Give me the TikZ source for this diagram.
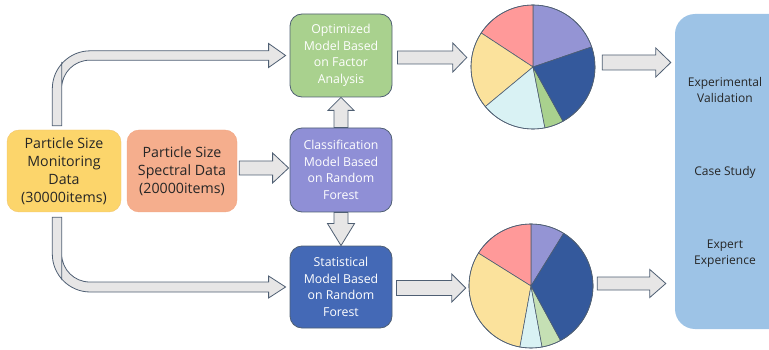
\documentclass[tikz,border=0pt]{standalone}
\usepackage{fontspec}
\setmainfont{Open Sans}
\usetikzlibrary{calc}

\definecolor{monfill}{HTML}{FCD56B}
\definecolor{monline}{HTML}{F2C46C}
\definecolor{specfill}{HTML}{F5AE8D}
\definecolor{specline}{HTML}{F2A582}
\definecolor{optfill}{HTML}{A9D18E}
\definecolor{clsfill}{HTML}{8F8FD6}
\definecolor{statfill}{HTML}{4469B6}
\definecolor{boxline}{HTML}{4F5F73}
\definecolor{resfill}{HTML}{9DC3E6}
\definecolor{arrowgray}{HTML}{E7E6E6}
\definecolor{piepurple}{HTML}{9494D4}
\definecolor{piepink}{HTML}{FF9999}
\definecolor{pieyellow}{HTML}{FBE29C}
\definecolor{piecyan}{HTML}{D9F2F4}
\definecolor{piegreen}{HTML}{A9D18E}
\definecolor{pielightgreen}{HTML}{C5E0B4}
\definecolor{pieblue}{HTML}{34599C}

\tikzset{
  databox/.style={rounded corners=12, minimum width=112, minimum height=82, align=center, text=black!85, font=\fontsize{14.2}{18}\selectfont},
  modelbox/.style={rounded corners=12, minimum width=102, minimum height=83, align=center, draw=boxline, line width=0.8, text=white, font=\fontsize{12.3}{16.5}\selectfont},
  restext/.style={align=center, text=black!85, font=\fontsize{12}{16}\selectfont},
  blockarrow/.style={fill=arrowgray, draw=boxline, line width=0.8},
  slice/.style={draw=boxline, line width=0.6},
}

\newcommand{\fatarrow}[5]{%
  \coordinate (fa-s) at (#1);
  \coordinate (fa-t) at (#2);
  \coordinate (fa-h) at ($(fa-t)!#5pt!(fa-s)$);
  \draw[blockarrow] ($(fa-s)!#3pt!90:(fa-t)$) -- ($(fa-h)!#3pt!-90:(fa-s)$) -- ($(fa-h)!#4pt!-90:(fa-s)$) -- (fa-t)
    -- ($(fa-h)!#4pt!90:(fa-s)$) -- ($(fa-h)!#3pt!90:(fa-s)$) -- ($(fa-s)!#3pt!-90:(fa-t)$) -- cycle;
}

\begin{document}
\begin{tikzpicture}[x=1pt,y=-1pt]
\useasboundingbox (0,0) rectangle (769,350);
\clip (0,0) rectangle (769,350);

\node[databox, fill=monfill, draw=monline, minimum width=114] (mon) at (64,171) {Particle Size\\Monitoring\\Data\\(30000items)};
\node[databox, fill=specfill, draw=specline, minimum width=110] (spec) at (182,171) {Particle Size\\Spectral Data\\(20000items)};

\node[modelbox, fill=optfill] (opt) at (341,55.5) {Optimized\\Model Based\\on Factor\\Analysis};
\node[modelbox, fill=clsfill, minimum height=84] (cls) at (341,170) {Classification\\Model Based\\on Random\\Forest};
\node[modelbox, fill=statfill, minimum height=82] (stat) at (341,287) {Statistical\\Model Based\\on Random\\Forest};

\node[fill=resfill, rounded corners=20, minimum width=125, minimum height=315] (res) at (737.5,171.5) {};
\node[restext] (val) at (725,90) {Experimental\\Validation};
\node[restext] (case) at (725,172) {Case Study};
\node[restext] (expert) at (725,254) {Expert\\Experience};

\node[circle, minimum size=124, inner sep=0] (pie1) at (533,67) {};
\node[circle, minimum size=124, inner sep=0] (pie2) at (531,286) {};
\foreach \a/\b/\c in {18.9/90/piepurple, 90/146.7/piepink, 146.7/219.7/pieyellow, 219.7/281.1/piecyan, 281.1/299/piegreen, 299/378.9/pieblue}
  \draw[slice, fill=\c] (pie1.center) -- ++(-\a:62) arc[start angle=-\a, end angle=-\b, radius=62] -- cycle;
\foreach \a/\b/\c in {58.2/90/piepurple, 90/148/piepink, 148/259.7/pieyellow, 259.7/280.3/piecyan, 280.3/298.5/pielightgreen, 298.5/418.2/pieblue}
  \draw[slice, fill=\c] (pie2.center) -- ++(-\a:62) arc[start angle=-\a, end angle=-\b, radius=62] -- cycle;
\draw[slice] (pie1.center) circle[radius=62];
\draw[slice] (pie2.center) circle[radius=62];

\draw[blockarrow] ($(mon.north)+(-11.7,-4)$) [rounded corners=38] |- ($(opt.west)+(-60,-4.7)$) [sharp corners] -- ($(opt.west)+(-21,-4.7)$) -- ($(opt.west)+(-21,-12)$) -- ($(opt.west)+(-4,0)$) -- ($(opt.west)+(-21,12)$) -- ($(opt.west)+(-21,4.7)$) [rounded corners=28] -| ($(mon.north)+(-2.3,-40)$) [sharp corners] -- ($(mon.north)+(-2.3,-4)$) -- cycle;
\draw[blockarrow] ($(mon.south)+(-11.7,5)$) [rounded corners=38] |- ($(stat.west)+(-60,5)$) [sharp corners] -- ($(stat.west)+(-21,5)$) -- ($(stat.west)+(-21,11)$) -- ($(stat.west)+(-4,0)$) -- ($(stat.west)+(-21,-11)$) -- ($(stat.west)+(-21,-5)$) [rounded corners=28] -| ($(mon.south)+(-2.3,40)$) [sharp corners] -- ($(mon.south)+(-2.3,5)$) -- cycle;

\fatarrow{$(spec.east)+(2,-3)$}{$(fa-s -| cls.west)+(-1,0)$}{7}{15}{16}
\fatarrow{cls.north}{fa-s |- opt.south}{7}{13}{13}
\fatarrow{cls.south}{fa-s |- stat.north}{7}{13.5}{22}
\fatarrow{$(opt.east)+(5,2)$}{$(fa-s -| pie1.west)+(-4,0)$}{6.5}{14.5}{14}
\fatarrow{$(stat.east)+(4,1)$}{$(fa-s -| pie2.west)+(-3,0)$}{7.5}{14}{14}
\fatarrow{$(pie1.east)+(7,-4.5)$}{$(fa-s -| res.west)+(-4,0)$}{7.5}{14.5}{15}
\fatarrow{$(pie2.east)+(4,-2.5)$}{$(fa-s -| res.west)+(-9,0)$}{6.5}{14}{16}
\end{tikzpicture}
\end{document}
